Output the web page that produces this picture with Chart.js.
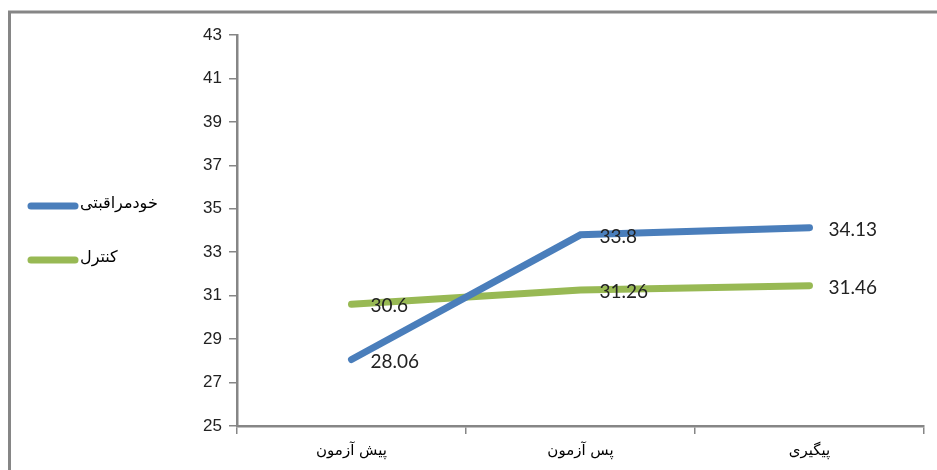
<!DOCTYPE html>
<html>
<head>
<meta charset="utf-8">
<script src="https://cdn.jsdelivr.net/npm/chart.js@4/dist/chart.umd.min.js"></script>
<style>
  html, body { margin: 0; padding: 0; background: #fff; }
  #wrap { width: 937px; height: 470px; position: relative; }
</style>
</head>
<body>
<div id="wrap"><canvas id="lineChart" width="937" height="470"></canvas></div>
<script>
const categories = ['پیش آزمون', 'پس آزمون', 'پیگیری'];
const selfCare = [28.06, 33.8, 34.13];
const control = [30.6, 31.26, 31.46];
const seriesNames = ['خودمراقبتی', 'کنترل'];

const axisGrey = '#868686';
const tickFont = { family: '"Liberation Sans", "DejaVu Sans", Arial', size: 17 };

// grey frame around the chart (top + left edges visible)
const framePlugin = {
    id: 'frame',
    beforeDraw(chart) {
        let c = chart.ctx;
        c.save();
        c.strokeStyle = axisGrey;
        c.lineWidth = 3;
        c.beginPath();
        c.moveTo(9.5, 470);
        c.lineTo(9.5, 12);
        c.lineTo(937, 12);
        c.stroke();
        c.restore();
    }
};

// value labels to the right of every point
const valueLabels = {
    id: 'valueLabels',
    afterDatasetsDraw(chart) {
        let c = chart.ctx;
        c.save();
        c.font = '19px Lato, "Liberation Sans", sans-serif';
        c.fillStyle = '#222';
        c.textAlign = 'left';
        c.textBaseline = 'middle';
        chart.data.datasets.forEach((ds, i) => {
            chart.getDatasetMeta(i).data.forEach((pt, j) => {
                c.fillText(String(ds.data[j]), pt.x + 19, pt.y + 2);
            });
        });
        c.restore();
    }
};

// legend on the left side
const sideLegend = {
    id: 'sideLegend',
    afterDraw(chart) {
        let c = chart.ctx;
        c.save();
        chart.data.datasets.forEach((ds, i) => {
            let y = 206 + i * 54;
            c.strokeStyle = ds.borderColor;
            c.lineWidth = 7;
            c.lineCap = 'round';
            c.beginPath();
            c.moveTo(31, y);
            c.lineTo(75, y);
            c.stroke();
            c.font = '16px "DejaVu Sans", sans-serif';
            c.fillStyle = '#000';
            c.textAlign = 'left';
            c.textBaseline = 'middle';
            c.fillText(ds.label, 80, y - 2);
        });
        c.restore();
    }
};

let ctx = document.getElementById('lineChart').getContext('2d');
let chart = new Chart(ctx, {
    type: 'line',
    data: {
        labels: categories,
        datasets: [
            {
                label: seriesNames[0],
                data: selfCare,
                borderColor: '#4a7ebb',
                borderWidth: 7,
                borderCapStyle: 'round',
                pointRadius: 0,
                fill: false
            },
            {
                label: seriesNames[1],
                data: control,
                borderColor: '#98b954',
                borderWidth: 7,
                borderCapStyle: 'round',
                pointRadius: 0,
                fill: false
            }
        ]
    },
    options: {
        responsive: false,
        animation: false,
        layout: { padding: { top: 35, right: 13, left: 0, bottom: 0 } },
        plugins: {
            legend: { display: false },
            tooltip: { enabled: false }
        },
        scales: {
            x: {
                offset: true,
                grid: {
                    offset: true,
                    drawOnChartArea: false,
                    color: axisGrey,
                    tickLength: 8,
                    lineWidth: 1.5
                },
                border: { color: axisGrey, width: 2.5 },
                ticks: { color: '#000', font: { family: '"DejaVu Sans", sans-serif', size: 15 }, padding: 8 },
                afterFit: s => { s.height = 44; }
            },
            y: {
                min: 25,
                max: 43,
                grid: {
                    drawOnChartArea: false,
                    color: axisGrey,
                    tickLength: 8,
                    lineWidth: 1.5
                },
                border: { color: axisGrey, width: 2.5 },
                ticks: { stepSize: 2, color: '#222', font: tickFont, padding: 7 },
                afterFit: s => { s.width = 237; }
            }
        }
    },
    plugins: [framePlugin, valueLabels, sideLegend]
});
</script>
</body>
</html>
